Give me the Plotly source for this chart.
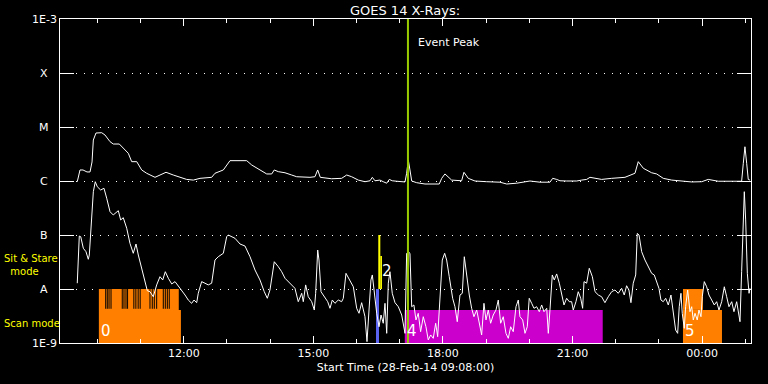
import math
import pandas as pd
import plotly.graph_objects as go

START = pd.Timestamp("2014-02-28 09:08:00")
END = START + pd.Timedelta(hours=16)

# GOES long channel (1-8 A): minutes after start, flux (W/m^2)
long_min = [24.0, 26.4, 27.8, 32.0, 37.5, 41.7, 44.5, 46.3, 50.0, 57.9,
            62.5, 69.5, 74.0, 82.4, 87.9, 94.9, 99.6, 106.6, 113.5, 120.4,
            132.0, 138.9, 147.3, 157.4, 166.7, 176.0, 185.2, 194.5, 210.7, 215.3,
            226.9, 231.6, 236.2, 250.1, 259.4, 266.3, 275.5, 287.2, 294.1, 297.7,
            303.3, 312.6, 321.9, 328.8, 347.3, 354.2, 358.0, 361.6, 377.4, 391.3,
            398.3, 405.2, 414.4, 423.7, 430.7, 433.9, 437.6, 444.5, 449.1, 453.9,
            457.5, 461.6, 467.8, 479.3, 481.6, 483.9, 486.2, 488.6, 495.5, 507.1,
            526.9, 530.3, 534.8, 539.4, 544.1, 558.0, 561.2, 567.2, 576.5, 592.8,
            611.2, 620.6, 634.4, 652.9, 666.8, 680.7, 684.5, 690.0, 694.6, 703.9,
            717.8, 724.8, 731.7, 736.3, 752.5, 766.4, 784.9, 798.8, 803.4, 810.4,
            822.0, 829.0, 838.1, 849.8, 861.3, 877.6, 891.5, 900.6, 914.5, 933.2,
            947.0, 949.3, 951.6, 954.0, 956.2, 958.5]
long_flux = [0.97e-6, 1.29e-6, 1.60e-6, 1.60e-6, 1.47e-6, 1.47e-6, 2.25e-6, 5.74e-6, 7.74e-6, 7.84e-6,
             7.11e-6, 5.35e-6, 4.84e-6, 4.84e-6, 4.04e-6, 3.26e-6, 2.28e-6, 2.28e-6, 1.60e-6, 1.39e-6,
             1.17e-6, 1.29e-6, 1.45e-6, 1.29e-6, 1.17e-6, 1.07e-6, 1.04e-6, 1.12e-6, 1.17e-6, 1.39e-6,
             1.60e-6, 1.98e-6, 2.38e-6, 2.38e-6, 2.38e-6, 1.98e-6, 1.65e-6, 1.35e-6, 1.35e-6, 1.60e-6,
             1.49e-6, 1.42e-6, 1.29e-6, 1.20e-6, 1.17e-6, 1.20e-6, 1.60e-6, 1.17e-6, 1.10e-6, 1.12e-6,
             1.29e-6, 1.20e-6, 1.04e-6, 0.97e-6, 1.01e-6, 1.17e-6, 1.01e-6, 1.04e-6, 0.97e-6, 0.91e-6,
             1.07e-6, 1.01e-6, 0.99e-6, 0.96e-6, 1.39e-6, 2.45e-6, 1.60e-6, 1.00e-6, 0.93e-6, 0.88e-6,
             0.88e-6, 1.12e-6, 1.35e-6, 1.20e-6, 1.04e-6, 1.01e-6, 1.45e-6, 1.12e-6, 1.00e-6, 0.97e-6,
             0.95e-6, 0.88e-6, 0.91e-6, 1.00e-6, 0.95e-6, 0.95e-6, 1.12e-6, 1.07e-6, 1.01e-6, 1.00e-6,
             1.00e-6, 1.04e-6, 1.07e-6, 1.17e-6, 1.07e-6, 1.12e-6, 1.17e-6, 1.39e-6, 2.28e-6, 1.72e-6,
             1.42e-6, 1.35e-6, 1.12e-6, 1.04e-6, 1.00e-6, 0.96e-6, 0.97e-6, 1.07e-6, 0.99e-6, 1.00e-6,
             0.99e-6, 2.13e-6, 4.31e-6, 2.13e-6, 1.07e-6, 1.04e-6]

# GOES short channel (0.5-4 A)
short_min = [24.0, 26.8, 28.8, 32.4, 36.1, 39.3, 40.7, 44.0, 46.3, 49.0,
             51.8, 56.5, 61.1, 64.9, 69.5, 74.0, 81.0, 84.3, 87.9, 92.7,
             97.2, 101.8, 105.6, 108.8, 113.5, 118.1, 121.3, 125.0, 129.6, 134.3,
             138.9, 142.7, 146.3, 150.5, 155.2, 159.8, 164.3, 169.1, 173.7, 178.2,
             182.9, 186.2, 189.9, 192.1, 196.8, 201.4, 206.0, 210.7, 215.3, 219.9,
             226.9, 231.6, 233.8, 243.1, 250.1, 257.0, 264.0, 270.9, 277.8, 283.8,
             288.0, 291.7, 297.7, 303.3, 308.0, 312.6, 319.5, 326.4, 331.0, 335.8,
             338.0, 341.3, 344.9, 349.7, 353.3, 355.2, 358.0, 359.8, 362.6, 367.2,
             371.9, 375.1, 378.3, 382.0, 386.6, 391.3, 393.6, 397.3, 402.9, 407.5,
             412.2, 415.4, 419.1, 423.7, 426.5, 429.3, 432.0, 433.9, 436.6, 440.0,
             443.2, 446.0, 449.1, 451.5, 453.9, 456.1, 458.4, 461.6, 465.4, 470.0,
             474.7, 476.9, 479.3, 481.6, 483.9, 486.2, 488.6, 491.7, 494.5, 497.7,
             501.0, 504.7, 508.4, 511.6, 515.0, 518.6, 521.9, 524.7, 527.9, 531.1,
             534.4, 537.2, 540.8, 545.5, 548.7, 551.9, 555.7, 558.9, 561.7, 565.0,
             568.6, 571.9, 575.1, 578.9, 582.5, 585.8, 589.0, 591.8, 595.0, 598.3,
             601.9, 605.7, 608.9, 612.2, 615.8, 619.6, 622.8, 626.1, 629.7, 633.5,
             636.7, 639.0, 642.8, 646.0, 649.2, 651.9, 655.3, 658.5, 662.2, 665.9,
             669.2, 672.4, 676.2, 678.4, 680.7, 683.9, 686.7, 690.0, 693.7, 697.0,
             700.2, 703.9, 707.5, 710.8, 713.1, 716.8, 720.0, 723.4, 726.1, 728.0,
             731.7, 735.3, 739.6, 743.3, 747.9, 752.5, 757.1, 761.7, 766.4, 771.0,
             775.6, 780.3, 783.9, 787.2, 790.4, 793.2, 796.4, 799.8, 802.0, 804.4,
             808.1, 812.7, 817.3, 822.0, 825.6, 829.0, 832.1, 834.9, 838.1, 841.5,
             845.1, 848.8, 852.0, 855.3, 858.1, 860.3, 862.7, 864.5, 867.3, 869.2,
             872.0, 875.2, 877.6, 879.8, 882.2, 885.3, 887.7, 890.5, 892.3, 895.1,
             898.4, 901.6, 905.4, 909.0, 912.3, 915.5, 919.3, 922.9, 926.2, 929.4,
             933.2, 936.3, 940.1, 942.3, 944.7, 947.0, 949.3, 950.7, 952.6, 954.9,
             957.3, 958.5]
short_flux = [1.28e-8, 9.57e-8, 9.31e-8, 5.68e-8, 4.91e-8, 3.55e-8, 4.26e-8, 2.18e-7, 6.34e-7, 9.70e-7,
              7.84e-7, 6.81e-7, 7.33e-7, 4.79e-7, 2.70e-7, 2.35e-7, 2.82e-7, 1.90e-7, 2.09e-7, 1.33e-7,
              7.02e-8, 4.58e-8, 6.81e-8, 4.26e-8, 2.42e-8, 1.28e-8, 9.31e-9, 8.91e-9, 7.19e-9, 1.19e-8,
              1.69e-8, 1.47e-8, 2.09e-8, 1.58e-8, 1.24e-8, 1.37e-8, 1.15e-8, 9.58e-9, 7.74e-9, 6.25e-9,
              5.43e-9, 6.25e-9, 5.58e-9, 8.32e-9, 1.37e-8, 1.28e-8, 1.19e-8, 1.28e-8, 3.44e-8, 3.96e-8,
              4.58e-8, 9.31e-8, 1.00e-7, 8.69e-8, 6.81e-8, 6.25e-8, 3.96e-8, 2.25e-8, 1.47e-8, 8.91e-9,
              6.73e-9, 9.58e-9, 3.20e-8, 2.59e-8, 2.09e-8, 1.58e-8, 1.28e-8, 1.03e-8, 5.82e-9, 8.32e-9,
              5.82e-9, 1.19e-8, 7.19e-9, 5.82e-9, 4.08e-9, 8.32e-9, 5.27e-8, 3.44e-8, 8.91e-9, 7.19e-9,
              5.82e-9, 4.39e-9, 6.25e-9, 5.43e-9, 6.25e-9, 5.82e-9, 6.73e-9, 1.95e-8, 1.47e-8, 1.10e-8,
              4.39e-9, 3.55e-9, 5.58e-9, 3.07e-9, 1.06e-9, 3.55e-9, 1.47e-8, 1.82e-8, 8.32e-9, 3.55e-9,
              2.00e-9, 3.30e-9, 2.32e-9, 5.43e-9, 1.51e-9, 1.28e-8, 2.09e-8, 8.32e-9, 5.58e-9, 4.70e-9,
              3.30e-9, 2.15e-9, 1.51e-9, 4.58e-8, 4.91e-8, 4.58e-8, 4.70e-9, 5.06e-9, 2.67e-9, 3.55e-9,
              1.62e-9, 3.07e-9, 2.00e-9, 1.14e-9, 1.41e-9, 1.22e-9, 2.32e-9, 1.31e-9, 8.32e-9, 3.44e-8,
              4.58e-8, 3.44e-8, 1.69e-8, 6.73e-9, 4.70e-9, 2.48e-9, 7.74e-9, 8.32e-9, 3.96e-8, 1.69e-8,
              7.74e-9, 4.39e-9, 3.07e-9, 4.08e-9, 2.15e-9, 1.41e-9, 5.43e-9, 2.67e-9, 4.08e-9, 2.32e-9,
              3.30e-9, 4.08e-9, 6.25e-9, 2.32e-9, 3.07e-9, 1.51e-9, 1.22e-9, 2.00e-9, 1.62e-9, 4.70e-9,
              6.25e-9, 3.07e-9, 2.67e-9, 1.51e-9, 2.00e-9, 6.73e-9, 5.43e-9, 4.39e-9, 4.70e-9, 3.80e-9,
              5.06e-9, 3.80e-9, 4.39e-9, 1.51e-9, 4.08e-9, 1.82e-8, 1.47e-8, 1.90e-8, 1.28e-8, 7.74e-9,
              5.06e-9, 6.73e-9, 5.82e-9, 5.82e-9, 4.08e-9, 5.82e-9, 8.91e-9, 6.73e-9, 4.39e-9, 1.37e-8,
              1.28e-8, 2.42e-8, 1.69e-8, 8.91e-9, 7.74e-9, 7.19e-9, 5.58e-9, 7.19e-9, 8.91e-9, 9.58e-9,
              8.32e-9, 1.03e-8, 7.74e-9, 1.15e-8, 9.58e-9, 5.58e-9, 1.28e-8, 1.82e-8, 1.07e-7, 1.00e-7,
              4.91e-8, 3.44e-8, 2.59e-8, 1.95e-8, 1.82e-8, 1.28e-8, 1.03e-8, 6.25e-9, 5.82e-9, 6.73e-9,
              5.06e-9, 7.74e-9, 3.55e-9, 1.74e-9, 1.51e-9, 4.70e-9, 8.32e-9, 3.55e-9, 1.87e-9, 4.70e-9,
              9.58e-9, 3.80e-9, 4.70e-9, 2.67e-9, 3.55e-9, 2.67e-9, 4.08e-9, 3.07e-9, 7.19e-9, 1.37e-8,
              1.10e-8, 7.74e-9, 6.25e-9, 5.06e-9, 5.82e-9, 4.08e-9, 5.82e-9, 1.10e-8, 7.19e-9, 4.70e-9,
              5.82e-9, 3.80e-9, 5.82e-9, 4.08e-9, 2.48e-9, 2.09e-8, 1.90e-7, 6.34e-7, 1.90e-7, 1.95e-8,
              8.32e-9, 1.03e-8]

assert len(long_min) == len(long_flux), (len(long_min), len(long_flux))
assert len(short_min) == len(short_flux), (len(short_min), len(short_flux))

# Y axis (GOES class) ticks
y_tickvals = [1e-9, 1e-8, 1e-7, 1e-6, 1e-5, 1e-4, 1e-3]
y_ticktext = ["1E-9", "A", "B", "C", "M", "X", "1E-3"]

# Observation blocks: start, end, bottom, top, colour
blk_start = ["2014-02-28 10:02", "2014-02-28 10:02", "2014-02-28 16:27", "2014-02-28 16:30:12",
             "2014-02-28 16:33", "2014-02-28 17:07", "2014-02-28 23:33:30", "2014-02-28 23:33:30"]
blk_end = ["2014-02-28 11:56", "2014-02-28 11:53", "2014-02-28 16:31:12", "2014-02-28 16:33",
           "2014-02-28 16:35:18", "2014-02-28 21:42", "2014-03-01 00:27:40", "2014-03-01 00:01:20"]
blk_bottom = [1e-9, 4.1e-9, 1e-9, 1e-8, 1e-8, 1e-9, 1e-9, 4.1e-9]
blk_top = [4.1e-9, 1e-8, 1e-8, 1e-7, 4.1e-8, 4.1e-9, 4.1e-9, 1e-8]
blk_color = ["#FF8000", "#FF8000", "#5A64F0", "#FFFF00", "#FFFF00", "#CC00CC", "#FF8000", "#FF8000"]

# raster gaps inside observation 0 (minutes after start)
gap_min = [63.5, 65.7, 68.1, 70.9, 86.5, 88.9, 91.7, 93.9, 102.6, 105.4,
           108.6, 111.4, 125.0, 128.2, 131.0, 134.3, 143.5, 146.3, 149.1, 151.8]
gap_top, gap_bottom = 1e-8, 4.3e-9

# Observation number labels
lab_text = ["0", "2", "4", "5"]
lab_time = ["2014-02-28 10:02", "2014-02-28 16:33", "2014-02-28 17:07", "2014-02-28 23:33:30"]
lab_flux = [1e-9, 2.15e-8, 1e-9, 1e-9]

peak_time = "2014-02-28 17:11:24"

FONT = "DejaVu Sans"

fig = go.Figure()


def tm(mins):
    return [START + pd.Timedelta(minutes=m) for m in mins]


for s, e, b, t, c in zip(blk_start, blk_end, blk_bottom, blk_top, blk_color):
    fig.add_trace(go.Scatter(x=[s, s, e, e, s], y=[b, t, t, b, b], mode="lines",
                             fill="toself", fillcolor=c, line=dict(width=0, color=c),
                             hoverinfo="skip", showlegend=False))

gx, gy = [], []
for g in tm(gap_min):
    gx += [g, g, None]
    gy += [gap_top, gap_bottom, None]
fig.add_trace(go.Scatter(x=gx, y=gy, mode="lines", line=dict(color="black", width=1),
                         showlegend=False, hoverinfo="skip"))

fig.add_trace(go.Scatter(x=tm(long_min), y=long_flux, mode="lines",
                         line=dict(color="white", width=1), showlegend=False))
fig.add_trace(go.Scatter(x=tm(short_min), y=short_flux, mode="lines",
                         line=dict(color="white", width=1), showlegend=False))

fig.add_trace(go.Scatter(x=[peak_time, peak_time], y=[1e-9, 1e-3], mode="lines",
                         line=dict(color="#99CC00", width=2), showlegend=False))

ann = []
for txt, tt, fl in zip(lab_text, lab_time, lab_flux):
    at_bottom = fl <= 1e-9
    ann.append(dict(x=tt, y=math.log10(fl), xref="x", yref="y", text=txt, showarrow=False,
                    xanchor="left", yanchor="bottom" if at_bottom else "middle",
                    yshift=1 if at_bottom else 0,
                    font=dict(family=FONT, size=15, color="white")))

for v, txt in zip(y_tickvals, y_ticktext):
    ann.append(dict(x=(44 - 60) / 691, y=math.log10(v), xref="paper", yref="y", text=txt,
                    showarrow=False, xanchor="center", yanchor="middle",
                    font=dict(family=FONT, size=11, color="white")))

ann.append(dict(x=peak_time, y=-3.444, xref="x", yref="y", text="Event Peak", showarrow=False,
                xanchor="left", yanchor="middle", xshift=8,
                font=dict(family=FONT, size=11, color="white")))
ann.append(dict(x=(2 - 60) / 691, y=-7.556, xref="paper", yref="y",
                text="Sit & Stare<br>\u00a0\u00a0mode", showarrow=False, align="left",
                xanchor="left", yanchor="middle",
                font=dict(family=FONT, size=10, color="#FFFF00")))
ann.append(dict(x=(2 - 60) / 691, y=-8.63, xref="paper", yref="y",
                text="Scan mode", showarrow=False, align="left",
                xanchor="left", yanchor="middle",
                font=dict(family=FONT, size=10, color="#FFFF00")))

fig.update_layout(
    width=768, height=384,
    margin=dict(l=60, r=17, t=19, b=41, autoexpand=False),
    paper_bgcolor="black", plot_bgcolor="black",
    title=dict(text="GOES 14 X-Rays:", x=405 / 768, xanchor="center",
               y=1 - 10 / 384, yanchor="middle",
               font=dict(family=FONT, size=13, color="white")),
    annotations=ann,
    showlegend=False,
)
fig.update_xaxes(
    type="date", range=[START, END], automargin=False,
    tickformat="%H:%M", dtick=3 * 3600000, tick0="2014-02-28 00:00",
    ticks="inside", ticklen=7, tickcolor="white", tickwidth=1,
    minor=dict(dtick=3600000, ticks="inside", ticklen=4, tickcolor="white", showgrid=False),
    showline=True, linecolor="white", linewidth=1, mirror="allticks",
    showgrid=False, zeroline=False,
    tickfont=dict(family=FONT, size=11, color="white"),
    title=dict(text="Start Time (28-Feb-14 09:08:00)", standoff=4,
               font=dict(family=FONT, size=11, color="white")),
)
fig.update_yaxes(
    type="log", range=[-9, -3], automargin=False,
    tickvals=y_tickvals, showticklabels=False,
    ticks="inside", ticklen=14, tickcolor="white", tickwidth=1,
    showline=True, linecolor="white", linewidth=1, mirror="allticks",
    showgrid=True, gridcolor="white", gridwidth=1, griddash="1px,7px",
    zeroline=False,
)

fig.write_html("out.html", config={"displayModeBar": False},
               post_script="document.body.style.margin='0';document.body.style.overflow='hidden';")
